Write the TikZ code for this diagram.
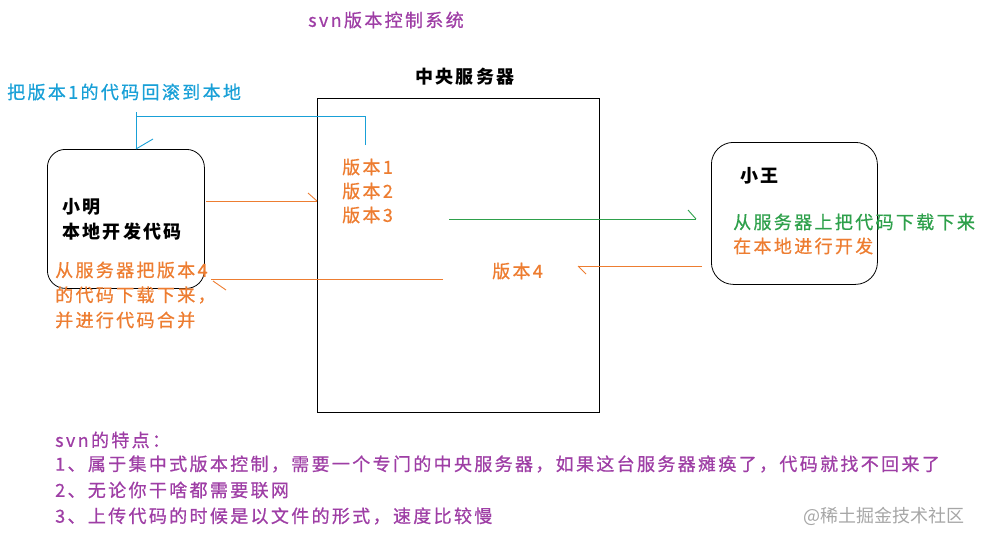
\documentclass[tikz,border=0pt]{standalone}
\usepackage{fontspec}
\newfontfamily\cjk{Noto Sans CJK SC}[LetterSpace=13, FakeBold=0.7]
\newfontfamily\cjkb{Noto Sans CJK SC}[LetterSpace=13]
\newfontfamily\wmfont{Noto Sans CJK SC}
\definecolor{svnpurple}{RGB}{158,62,165}
\definecolor{svnorange}{RGB}{237,125,49}
\definecolor{svnblue}{RGB}{25,160,215}
\definecolor{svngreen}{RGB}{46,160,75}
\tikzset{
  txt/.style={anchor=west, inner sep=0pt, font=\cjk\fontsize{18}{20}\selectfont},
  btxt/.style={txt, font=\cjkb\bfseries\fontsize{18}{20}\selectfont},
  box/.style={draw=black, line width=0.8pt, inner sep=0pt, anchor=north west},
  link/.style={line width=0.9pt},
}
\begin{document}
\begin{tikzpicture}[x=1pt, y=-1pt]
\useasboundingbox (0,0) rectangle (984,543);
% boxes
\node[box, minimum width=282pt, minimum height=314pt] (server) at (317,98) {};
\node[box, rounded corners=18pt, minimum width=157pt, minimum height=139pt] (ming) at (47,149) {};
\node[box, rounded corners=22pt, minimum width=166pt, minimum height=142pt] (wang) at (711,142) {};
% titles
\node[txt, text=svnpurple] (title) at (308,20) {svn版本控制系统};
\node[btxt] (servertitle) at (415,77) {中央服务器};
% blue rollback label + connector
\node[txt, text=svnblue] (rollback) at (7,92) {把版本1的代码回滚到本地};
\coordinate (bS) at (365,145);
\coordinate (bA) at (365,116);
\coordinate (bB) at (136,116);
\coordinate (bE) at (136,149);
\draw[link, svnblue] (bS) -- (bA) -- (bB) -- (bE);
\draw[link, svnblue] (136,112) -- (bB);
\draw[link, svnblue] (bE) -- ++(17,-10);
% server content
\node[txt, text=svnorange] (v1) at (342,167) {版本1};
\node[txt, text=svnorange] (v2) at (342,191) {版本2};
\node[txt, text=svnorange] (v3) at (342,215) {版本3};
\node[txt, text=svnorange] (v4) at (492,271) {版本4};
% xiao ming
\node[btxt] (mingname) at (62,207) {小明};
\node[btxt] (mingdev) at (62,232) {本地开发代码};
\node[txt, text=svnorange] (merge1) at (55,270) {从服务器把版本4};
\node[txt, text=svnorange] (merge2) at (55,295) {的代码下载下来，};
\node[txt, text=svnorange] (merge3) at (55,320) {并进行代码合并};
% xiao wang
\node[btxt] (wangname) at (740,176) {小王};
\node[txt, text=svngreen] (wang1) at (733,222) {从服务器上把代码下载下来};
\node[txt, text=svnorange] (wang2) at (733,246) {在本地进行开发};
% arrows
\coordinate (oS) at (206,201);
\coordinate (oE) at (317,201);
\draw[link, svnorange] (oS) -- (oE);
\draw[link, svnorange] (oE) -- ++(-9,-8);
\coordinate (gS) at (449,219);
\coordinate (gE) at (696,219);
\draw[link, svngreen] (gS) -- (gE);
\draw[link, svngreen] (gE) -- ++(-8,-9);
\coordinate (rS) at (702,266);
\coordinate (rE) at (578,266);
\draw[link, svnorange] (rS) -- (rE);
\draw[link, svnorange] (rE) -- ++(8,8);
\coordinate (lS) at (443,279);
\coordinate (lE) at (211,279);
\draw[link, svnorange] (lS) -- (lE);
\draw[link, svnorange] (213,281) -- (226,290);
% features
\node[txt, text=svnpurple] (f0) at (55,440) {svn的特点：};
\node[txt, text=svnpurple] (f1) at (55,464) {1、属于集中式版本控制，需要一个专门的中央服务器，如果这台服务器瘫痪了，代码就找不回来了};
\node[txt, text=svnpurple] (f2) at (55,490) {2、无论你干啥都需要联网};
\node[txt, text=svnpurple] (f3) at (55,516) {3、上传代码的时候是以文件的形式，速度比较慢};
\node[anchor=west, inner sep=0pt, text=black!35, font=\wmfont\fontsize{18}{20}\selectfont] (wm) at (803,516) {@稀土掘金技术社区};
\end{tikzpicture}
\end{document}
